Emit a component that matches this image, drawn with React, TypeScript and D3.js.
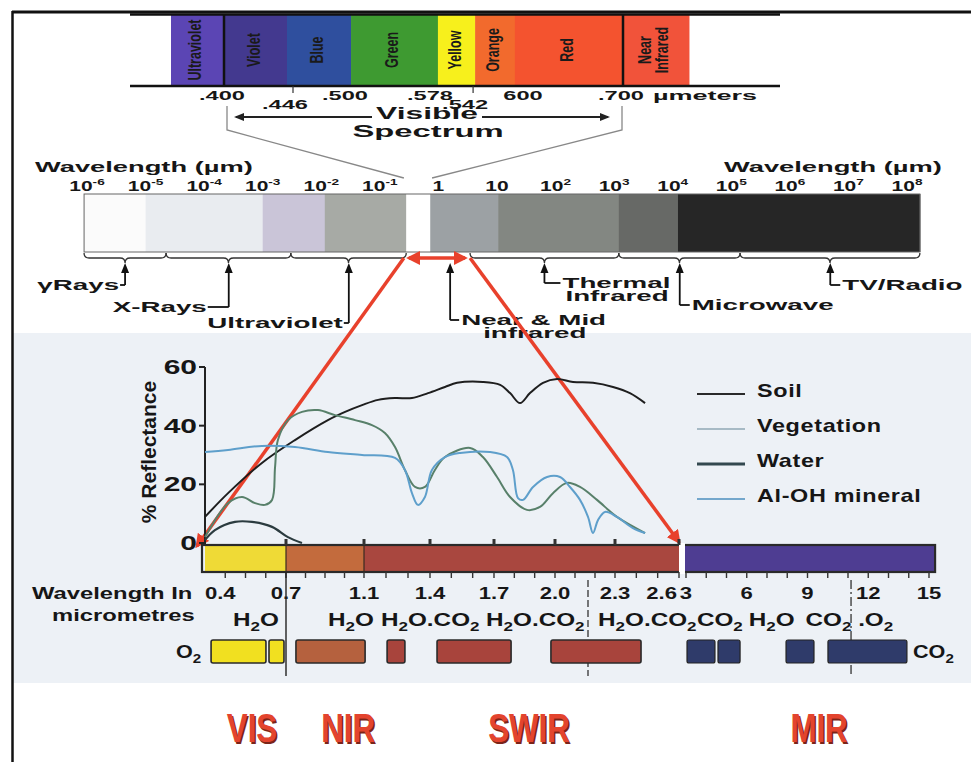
import React from 'react';
import * as d3 from 'd3';

// ---- visible spectrum strip (µm) ----
const visBands = ['Ultraviolet', 'Violet', 'Blue', 'Green', 'Yellow', 'Orange', 'Red', 'Near|Infrared'];
const visEdges = [0.3613, 0.4, 0.446, 0.5037, 0.5794, 0.5882, 0.5976, 0.7, 0.7673];
const visColors = ['#5b45b4', '#43398f', '#2f4f9e', '#3e9a31', '#f7f01c', '#f26a2d', '#f4532f', '#f1533a'];
const visTicks = [0.4, 0.446, 0.5, 0.578, 0.5863, 0.6, 0.7];
const visTickText = ['.400', '.446', '.500', '.578', '.542', '600', '.700'];
const visTickLow = [false, true, false, false, true, false, false];

// ---- electromagnetic spectrum bar (log10 µm) ----
const emExponents = d3.range(-6, 9);
const emEdges = [-6.05, -5, -3, -1.94, -0.55, -0.14, 1.02, 3.08, 4.09, 8.22];
const emColors = ['#fbfbfb', '#e9ecf0', '#cac5d8', '#a7aaa5', '#ffffff', '#9ca1a4', '#838782', '#676966', '#262626'];
const emRegions = ['γRays', 'X-Rays', 'Ultraviolet', 'Near & Mid|infrared', 'Thermal|Infrared', 'Microwave', 'TV/Radio'];
const emArrowAt = [-5.35, -3.58, -1.53, 0.2, 1.81, 4.12, 6.69];
const emBraces = [[-6.05, -4.65], [-4.65, -2.52], [-2.52, -0.55], null, [0.54, 3.08], [3.08, 5.15], [5.15, 8.22]];
const emZoom = [-0.59, 0.54];

// ---- reflectance curves (µm, %) ----
const soilWl = [0.30, 0.414, 0.581, 0.746, 0.915, 1.003, 1.09, 1.164, 1.241, 1.318, 1.391, 1.47, 1.527, 1.648, 1.73, 1.779, 1.828, 1.877, 1.941, 2.01, 2.09, 2.19, 2.29, 2.37, 2.441];
const soilR = [8.9, 17.0, 27.3, 35.1, 41.9, 44.7, 47.0, 48.8, 49.4, 49.4, 51.1, 53.2, 54.6, 54.9, 53.9, 51.1, 47.7, 51.1, 54.6, 55.9, 54.9, 54.6, 53.2, 51.1, 47.7];
const vegWl = [0.30, 0.414, 0.483, 0.547, 0.596, 0.631, 0.646, 0.66, 0.71, 0.782, 0.864, 0.951, 1.054, 1.136, 1.195, 1.241, 1.286, 1.332, 1.377, 1.423, 1.47, 1.588, 1.648, 1.715, 1.779, 1.862, 1.926, 1.99, 2.06, 2.125, 2.21, 2.309, 2.441];
const vegR = [2.0, 13.6, 15.7, 13.6, 13.0, 14.7, 25.9, 35.1, 41.9, 44.7, 45.3, 43.6, 41.9, 40.2, 37.5, 32.7, 24.9, 19.1, 19.1, 24.9, 29.3, 32.4, 29.3, 22.5, 15.7, 11.3, 12.3, 17.0, 20.5, 19.1, 14.7, 8.9, 3.4];
const waterWl = [0.30, 0.349, 0.448, 0.532, 0.631, 0.71, 0.782];
const waterR = [1.0, 4.4, 7.2, 7.2, 5.5, 2.0, 0];
const alohWl = [0.30, 0.414, 0.581, 0.746, 0.915, 1.09, 1.241, 1.286, 1.318, 1.345, 1.377, 1.409, 1.47, 1.541, 1.681, 1.764, 1.793, 1.818, 1.843, 1.892, 1.961, 2.025, 2.075, 2.125, 2.165, 2.19, 2.215, 2.25, 2.309, 2.384, 2.441];
const alohR = [31.0, 31.7, 33.1, 32.7, 31.0, 30.0, 29.0, 24.9, 17.0, 13.0, 15.7, 24.9, 29.3, 30.7, 31.0, 29.3, 24.9, 15.3, 14.7, 19.1, 22.5, 22.5, 19.1, 14.7, 8.9, 3.4, 7.8, 10.6, 8.9, 5.1, 3.4];
const seriesNames = ['Soil', 'Vegetation', 'Water', 'Al-OH mineral'];
const reflTicks = [0, 20, 40, 60];

// ---- wavelength bar and absorption bands ----
const swTicks = [0.4, 0.7, 1.1, 1.4, 1.7, 2.0, 2.3, 2.6];
const mirTicks = [3, 6, 9, 12, 15];
const swBar = [[0.3, 0.7], [0.7, 1.1], [1.1, 2.6]];
const mirBar = [2.95, 15.3];
const swBoxes = [[0.33, 0.601], [0.616, 0.69], [0.751, 1.105], [1.205, 1.286], [1.433, 1.784], [1.98, 2.422]];
const mirBoxes = [[3.05, 4.43], [4.58, 5.67], [7.94, 9.32], [10.01, 13.91]];
const swGas = ['H2O', 'H2O', 'H2O.CO2', 'H2O.CO2', 'H2O.CO2'];
const swGasAt = [0.438, 0.915, 1.177, 1.6625, 2.215];
const mirGas = ['CO2', 'H2O', 'CO2', '.O2'];
const mirGasAt = [3.54, 6.1, 8.9, 11.5];
const regionNames = ['VIS', 'NIR', 'SWIR', 'MIR'];
const regionAt = [0.532, 1.019, 1.872, 9.57];

const SANS = "'Liberation Sans', Arial, Helvetica, sans-serif";
const INK = '#161616';

const T = ({ x, y, sx = 1, size, anchor = 'start', weight = 'bold', fill = INK, rotate = 0, spacing = 0, children }: any) => (
  <text
    transform={`translate(${x},${y}) scale(${sx},1)${rotate ? ` rotate(${rotate})` : ''}`}
    fontSize={size} fontWeight={weight} fontFamily={SANS} textAnchor={anchor} fill={fill} letterSpacing={spacing}
  >{children}</text>
);

// chemical formula with subscript 2s
const chem = (s: string) => {
  const parts = s.split('2');
  const out: any[] = [];
  parts.forEach((p, i) => {
    out.push(<tspan key={'p' + i} dy={i > 0 ? -5 : 0}>{p}</tspan>);
    if (i < parts.length - 1) out.push(<tspan key={'s' + i} dy={5} fontSize="0.7em">2</tspan>);
  });
  return out;
};

const brace = (x1: number, x2: number, y: number) => {
  const m = (x1 + x2) / 2;
  return `M${x1},${y} Q${x1},${y + 5} ${x1 + 5},${y + 5} L${m - 5},${y + 5} Q${m},${y + 5} ${m},${y + 10} Q${m},${y + 5} ${m + 5},${y + 5} L${x2 - 5},${y + 5} Q${x2},${y + 5} ${x2},${y}`;
};

const upArrow = (x: number, y: number) => `M${x},${y} L${x - 4},${y + 10} L${x + 4},${y + 10} Z`;

export default function App() {
  const W = 971, H = 762;

  const xVis = d3.scaleLinear().domain([0.4, 0.446, 0.5, 0.578, 0.6, 0.7]).range([224, 287, 347, 432, 525, 623]);
  const xEm = d3.scaleLinear().domain([-6, 8]).range([87, 907]);
  const xSw = d3.scaleLinear().domain([0.3, ...swTicks.slice(1)]).range([205, 286, 364, 430, 494, 555, 615, 679]);
  const xMir = d3.scaleLinear().domain([3, 15]).range([686, 929]);
  const xAny = (v: number) => (v >= 2.9 ? xMir(v) : xSw(v));
  const yR = d3.scaleLinear().domain([0, 60]).range([543, 367]);

  const line = d3.line<[number, number]>().x(d => xSw(d[0])).y(d => yR(d[1])).curve(d3.curveCatmullRom.alpha(0.5));
  const zip = (a: number[], b: number[]) => a.map((v, i) => [v, b[i]] as [number, number]);
  const curves = [
    { d: zip(soilWl, soilR), color: '#1e1e1e', w: 2 },
    { d: zip(vegWl, vegR), color: '#58806a', w: 2 },
    { d: zip(waterWl, waterR), color: '#2b3b3f', w: 2.2 },
    { d: zip(alohWl, alohR), color: '#5e9fcb', w: 2 },
  ];
  const legendColors = ['#2a2a2a', '#8fa7b4', '#33484f', '#74a7cc'];
  const legendW = [1.8, 1.6, 3, 1.8];

  const labelDx = [-6, -22, -6, 11, 18, 12, 12];
  const labelY = [290, 312, 328, 325, 288, 310, 290];
  const BAR_Y0 = 194, BAR_Y1 = 252;

  const barColors = ['#efda36', '#c36b3d', '#a9473f'];
  const boxColors = ['#f1e020', '#f1e020', '#b5613e', '#a8443c', '#a8443c', '#a8443c'];

  return (
    <svg width={W} height={H} style={{ position: 'absolute', left: 0, top: 0, display: 'block', background: '#fff' }}>
      <defs>
        <marker id="redHead" viewBox="0 0 10 10" refX="8" refY="5" markerWidth="4" markerHeight="4" orient="auto-start-reverse">
          <path d="M0,0 L10,5 L0,10 Z" fill="#e8412c" />
        </marker>
        <marker id="blkHead" viewBox="0 0 10 10" refX="8" refY="5" markerWidth="5" markerHeight="5" orient="auto-start-reverse">
          <path d="M0,1 L10,5 L0,9 Z" fill="#222" />
        </marker>
      </defs>

      {/* tinted middle of the scan */}
      <rect x={12} y={333} width={W - 12} height={350} fill="#edf1f6" />

      {/* frame */}
      <line x1={12} x2={W} y1={12} y2={12} stroke="#111" strokeWidth={3} />
      <line x1={12.5} x2={12.5} y1={11} y2={H} stroke="#111" strokeWidth={2.5} />

      {/* visible spectrum strip */}
      {visBands.map((b, i) => (
        <rect key={b} x={xVis(visEdges[i])} y={15} width={xVis(visEdges[i + 1]) - xVis(visEdges[i]) + 0.5} height={70} fill={visColors[i]} />
      ))}
      <line x1={130} x2={780} y1={14.5} y2={14.5} stroke="#111" strokeWidth={2.5} />
      <line x1={130} x2={780} y1={86} y2={86} stroke="#111" strokeWidth={2.5} />
      {[0.4, 0.7].map(v => (
        <line key={v} x1={xVis(v)} x2={xVis(v)} y1={14} y2={86} stroke="#111" strokeWidth={2.5} />
      ))}
      {visBands.map((b, i) => {
        const cx = (xVis(visEdges[i]) + xVis(visEdges[i + 1])) / 2;
        const lines = b.split('|');
        return lines.map((l, j) => (
          <T key={b + j} x={cx + (j - (lines.length - 1) / 2) * 17 + 4} y={50} sx={1.5} size={12.5} anchor="middle" rotate={-90} fill="#1a1a1a">{l}</T>
        ));
      })}
      {visTicks.map((v, i) => (
        <g key={visTickText[i]}>
          {visTickLow[i] && <line x1={xVis(v) + 6} x2={xVis(v) + 6} y1={86} y2={93} stroke="#333" strokeWidth={1.2} />}
          <T x={xVis(v) - 2} y={visTickLow[i] ? 109 : 100} sx={1.75} size={13.5} anchor="middle">{visTickText[i]}</T>
        </g>
      ))}
      <T x={653} y={100} sx={2.0} size={13.5}>µmeters</T>
      <line x1={236} x2={372} y1={117} y2={117} stroke="#222" strokeWidth={2} markerStart="url(#blkHead)" />
      <line x1={482} x2={608} y1={117} y2={117} stroke="#222" strokeWidth={2} markerEnd="url(#blkHead)" />
      <T x={427} y={119} sx={1.87} size={17} anchor="middle">Visible</T>
      <T x={428} y={137} sx={1.93} size={17} anchor="middle">Spectrum</T>
      <path d={`M${xVis(0.4) + 3},106 L${xVis(0.4) + 3},130 L${xEm(emZoom[0])},178`} fill="none" stroke="#888" strokeWidth={1.3} />
      <path d={`M${xVis(0.7) - 1},106 L${xVis(0.7) - 1},130 L${xEm(emZoom[1]) - 38},178`} fill="none" stroke="#888" strokeWidth={1.3} />

      {/* electromagnetic spectrum bar */}
      <T x={35} y={172} sx={1.82} size={15}>Wavelength (µm)</T>
      <T x={724} y={172} sx={1.82} size={15}>Wavelength (µm)</T>
      {emExponents.map(e => (
        <T key={e} x={xEm(e)} y={191} sx={1.4} size={15} anchor="middle">
          {e === 0 ? '1' : e === 1 ? '10' : <>10<tspan dy={-6} fontSize="0.65em">{e}</tspan></>}
        </T>
      ))}
      {emColors.map((c, i) => (
        <rect key={i} x={xEm(emEdges[i])} y={BAR_Y0} width={xEm(emEdges[i + 1]) - xEm(emEdges[i]) + 0.5} height={BAR_Y1 - BAR_Y0} fill={c} />
      ))}
      <rect x={xEm(emEdges[0])} y={BAR_Y0} width={xEm(emEdges[9]) - xEm(emEdges[0])} height={BAR_Y1 - BAR_Y0} fill="none" stroke="#666" strokeWidth={1} />
      {emBraces.map((b, i) => b && (
        <path key={i} d={brace(xEm(b[0]), xEm(b[1]), BAR_Y1 + 1)} fill="none" stroke="#333" strokeWidth={1.3} />
      ))}
      {emRegions.map((r, i) => {
        const x = xEm(emArrowAt[i]);
        const lines = r.split('|');
        const left = labelDx[i] < 0;
        const yl = labelY[i] - 5;
        return (
          <g key={r}>
            <path d={upArrow(x, 263)} fill="#111" />
            <line x1={x} x2={x} y1={270} y2={yl} stroke="#111" strokeWidth={1.8} />
            <line x1={x} x2={x + labelDx[i] + (left ? 1 : -2)} y1={yl} y2={yl} stroke="#111" strokeWidth={1.8} />
            {lines.map((l, j) => (
              <T key={l} x={x + labelDx[i] + (j ? 3 + (i === 3 ? 19 : 0) : 0)} y={labelY[i] + j * 13} sx={1.85} size={15} anchor={left ? 'end' : 'start'}>{l}</T>
            ))}
          </g>
        );
      })}

      {/* zoom trapezoid */}
      <line x1={xEm(emZoom[0]) + 5} x2={xEm(emZoom[1]) - 5} y1={258} y2={258} stroke="#e8412c" strokeWidth={3.5} markerStart="url(#redHead)" markerEnd="url(#redHead)" />
      <line x1={xEm(emZoom[0])} y1={258} x2={xSw(0.3) - 8} y2={yR(0) + 3} stroke="#e8412c" strokeWidth={3.5} markerEnd="url(#redHead)" />
      <line x1={xEm(emZoom[1])} y1={258} x2={xSw(2.6)} y2={yR(0) - 1} stroke="#e8412c" strokeWidth={3.5} markerEnd="url(#redHead)" />

      {/* reflectance chart */}
      <line x1={205} x2={205} y1={yR(60)} y2={yR(0) + 2} stroke="#222" strokeWidth={2} />
      {reflTicks.map(t => (
        <g key={t}>
          <line x1={199} x2={205} y1={yR(t)} y2={yR(t)} stroke="#222" strokeWidth={2} />
          <T x={197} y={yR(t) + 7} sx={1.5} size={20} anchor="end">{t}</T>
        </g>
      ))}
      <T x={156} y={452} size={21} anchor="middle" rotate={-90}>% Reflectance</T>
      {curves.map((c, i) => (
        <path key={i} d={line(c.d) || ''} fill="none" stroke={c.color} strokeWidth={c.w} strokeLinejoin="round" />
      ))}
      {seriesNames.map((n, i) => (
        <g key={n} transform={`translate(0,${394 + i * 35})`}>
          <line x1={697} x2={745} y1={0} y2={0} stroke={legendColors[i]} strokeWidth={legendW[i]} />
          <T x={757} y={3} sx={1.3} size={18} spacing={0.5}>{n}</T>
        </g>
      ))}

      {/* wavelength bar */}
      {swBar.map((s, i) => (
        <rect key={i} x={xSw(s[0])} y={545} width={xSw(s[1]) - xSw(s[0])} height={27} fill={barColors[i]} />
      ))}
      <rect x={xMir(mirBar[0])} y={545} width={xMir(mirBar[1]) - xMir(mirBar[0])} height={27} fill="#4e3d92" />
      <rect x={xSw(0.3) - 3} y={545} width={xMir(mirBar[1]) - xSw(0.3) + 3} height={27} fill="none" stroke="#2a2a2a" strokeWidth={2.2} />
      <rect x={xSw(2.6)} y={543} width={xMir(mirBar[0]) - xSw(2.6)} height={31} fill="#fff" />
      {[0.7, 1.1].map(v => <line key={v} x1={xSw(v)} x2={xSw(v)} y1={545} y2={572} stroke="#3a2a20" strokeWidth={1.2} />)}
      {swTicks.slice(1).map(v => <rect key={v} x={xSw(v) - 1.5} y={539} width={3} height={6} fill="#333" />)}
      {d3.range(4, 27).map(v => <line key={v} x1={xSw(v / 10)} x2={xSw(v / 10)} y1={572} y2={578} stroke="#333" strokeWidth={1.4} />)}
      {d3.range(3, 16).map(v => <line key={v} x1={xMir(v)} x2={xMir(v)} y1={572} y2={578} stroke="#333" strokeWidth={1.4} />)}

      <T x={32} y={599} sx={1.4} size={17}>Wavelength In</T>
      <T x={52} y={621} sx={1.4} size={17}>micrometres</T>
      {swTicks.map(v => (
        <T key={v} x={v === 2.6 ? xSw(v) - 2 : xSw(v) - (v === 0.4 ? 5 : 0)} y={599} sx={1.3} size={17} anchor={v === 2.6 ? 'end' : 'middle'}>{v.toFixed(1)}</T>
      ))}
      {mirTicks.map(v => (
        <T key={v} x={xMir(v)} y={599} sx={1.3} size={17} anchor="middle">{v}</T>
      ))}
      <line x1={xSw(0.7)} x2={xSw(0.7)} y1={572} y2={676} stroke="#222" strokeWidth={1.4} />
      <line x1={xSw(2.165)} x2={xSw(2.165)} y1={580} y2={676} stroke="#333" strokeWidth={1.3} strokeDasharray="7 3" />
      <line x1={xMir(11.15)} x2={xMir(11.15)} y1={580} y2={676} stroke="#333" strokeWidth={1.3} strokeDasharray="9 3 2 3" />

      {swGas.map((g, i) => (
        <T key={'g' + i} x={xSw(swGasAt[i])} y={626} sx={1.35} size={18}>{chem(g)}</T>
      ))}
      {mirGas.map((g, i) => (
        <T key={'m' + i} x={xMir(mirGasAt[i])} y={626} sx={1.35} size={18}>{chem(g)}</T>
      ))}

      <T x={176} y={658} sx={1.2} size={18}>{chem('O2')}</T>
      {swBoxes.map((b, i) => (
        <rect key={'b' + i} x={xSw(b[0])} y={640} width={xSw(b[1]) - xSw(b[0])} height={23} rx={2} fill={boxColors[i]} stroke="#2a2a2a" strokeWidth={1.6} />
      ))}
      {mirBoxes.map((b, i) => (
        <rect key={'n' + i} x={xMir(b[0])} y={640} width={xMir(b[1]) - xMir(b[0])} height={23} rx={2} fill="#2f3b6a" stroke="#222" strokeWidth={1.2} />
      ))}
      <T x={913} y={658} sx={1.2} size={18}>{chem('CO2')}</T>

      {regionNames.map((r, i) => (
        <g key={r}>
          <T x={xAny(regionAt[i]) + 1.5} y={743.5} sx={0.78} size={40} anchor="middle" fill="#7a2419">{r}</T>
          <T x={xAny(regionAt[i])} y={742} sx={0.78} size={40} anchor="middle" fill="#e3442e">{r}</T>
        </g>
      ))}
    </svg>
  );
}
